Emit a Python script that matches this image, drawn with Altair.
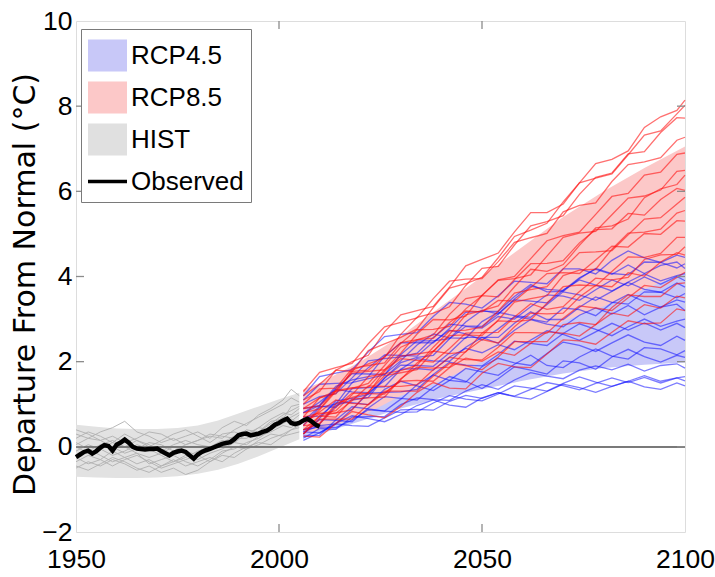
import altair as alt
import pandas as pd

# ---------------- data ----------------
obs_years = list(range(1950, 2011))
obs_vals = [-0.24, -0.18, -0.12, -0.09, -0.16, -0.10, -0.02, 0.04, 0.02, -0.09,
            0.05, 0.10, 0.17, 0.10, 0.00, -0.04, -0.05, -0.06, -0.05, -0.05,
            -0.04, -0.10, -0.15, -0.20, -0.14, -0.11, -0.09, -0.12, -0.20, -0.28,
            -0.18, -0.12, -0.08, -0.05, -0.01, 0.03, 0.07, 0.09, 0.11, 0.18,
            0.27, 0.30, 0.31, 0.27, 0.29, 0.31, 0.35, 0.38, 0.44, 0.52,
            0.56, 0.62, 0.66, 0.56, 0.53, 0.56, 0.62, 0.66, 0.60, 0.52, 0.47]

hist_band_years = [1950, 1955, 1960, 1965, 1970, 1975, 1980, 1985, 1990, 1995, 2000, 2005]
hist_band_hi = [0.52, 0.47, 0.43, 0.42, 0.42, 0.44, 0.50, 0.62, 0.78, 0.95, 1.12, 1.27]
hist_band_lo = [-0.70, -0.72, -0.73, -0.73, -0.72, -0.69, -0.63, -0.54, -0.40, -0.22, -0.02, 0.18]

proj_band_years = [2006, 2010, 2020, 2030, 2040, 2050, 2060, 2070, 2080, 2090, 2100]
rcp45_band_lo = [0.20, 0.30, 0.60, 0.90, 1.15, 1.35, 1.55, 1.72, 1.85, 1.93, 1.98]
rcp45_band_hi = [1.20, 1.40, 1.90, 2.40, 2.80, 3.10, 3.40, 3.70, 3.90, 4.10, 4.25]
rcp85_band_lo = [0.30, 0.40, 0.70, 1.20, 1.55, 2.00, 2.40, 2.95, 3.30, 3.70, 4.10]
rcp85_band_hi = [1.35, 1.50, 2.00, 2.60, 3.30, 4.00, 4.70, 5.40, 6.00, 6.55, 7.05]

hist_years = [1950, 1953, 1956, 1959, 1962, 1965, 1968, 1971, 1974, 1977,
              1980, 1983, 1986, 1989, 1992, 1995, 1998, 2001, 2003, 2005]
hist_runs = [
    [-0.35, -0.20, -0.30, -0.10, -0.25, -0.40, -0.30, -0.45, -0.35, -0.20, -0.30, -0.15, -0.05, 0.10, 0.05, 0.25, 0.35, 0.50, 0.45, 0.60],
    [0.30, 0.20, 0.35, 0.45, 0.60, 0.35, 0.25, 0.10, 0.20, 0.05, 0.15, 0.25, 0.20, 0.40, 0.55, 0.70, 0.85, 1.00, 1.15, 1.05],
    [-0.10, 0.05, -0.05, -0.20, -0.10, 0.05, -0.05, -0.20, -0.35, -0.25, -0.10, 0.00, 0.15, 0.10, 0.30, 0.45, 0.40, 0.60, 0.70, 0.80],
    [0.10, -0.05, -0.20, -0.35, -0.25, -0.15, -0.40, -0.30, -0.20, -0.35, -0.45, -0.30, -0.10, -0.05, 0.10, 0.20, 0.40, 0.55, 0.65, 0.55],
    [-0.50, -0.35, -0.45, -0.30, -0.40, -0.55, -0.45, -0.60, -0.50, -0.65, -0.55, -0.35, -0.20, -0.25, -0.05, 0.05, 0.20, 0.30, 0.40, 0.50],
    [0.40, 0.30, 0.15, 0.25, 0.10, 0.20, 0.35, 0.30, 0.15, 0.25, 0.35, 0.20, 0.45, 0.60, 0.50, 0.75, 0.90, 1.10, 1.35, 1.20],
    [0.05, 0.20, 0.15, 0.00, -0.15, -0.05, 0.10, 0.05, -0.10, 0.05, 0.15, 0.30, 0.25, 0.20, 0.40, 0.35, 0.55, 0.75, 0.85, 0.95],
    [-0.25, -0.40, -0.30, -0.45, -0.30, -0.20, -0.35, -0.50, -0.40, -0.30, -0.20, -0.35, -0.15, 0.00, -0.05, 0.15, 0.30, 0.25, 0.40, 0.45],
    [0.20, 0.35, 0.25, 0.10, 0.30, 0.15, 0.00, 0.15, 0.30, 0.40, 0.25, 0.10, 0.30, 0.35, 0.25, 0.45, 0.65, 0.80, 0.75, 0.90],
    [-0.20, -0.10, 0.05, 0.15, 0.00, -0.15, -0.25, -0.15, 0.00, -0.10, -0.20, -0.05, 0.10, 0.25, 0.35, 0.30, 0.50, 0.70, 0.60, 0.75],
    [-0.45, -0.55, -0.40, -0.25, -0.35, -0.50, -0.60, -0.45, -0.30, -0.45, -0.35, -0.25, -0.35, -0.15, 0.00, 0.10, 0.05, 0.25, 0.30, 0.35],
    [0.00, -0.15, -0.05, 0.10, 0.00, 0.15, 0.05, -0.10, 0.05, 0.15, 0.05, 0.00, 0.05, 0.20, 0.20, 0.35, 0.60, 0.65, 0.95, 1.00],
]

proj_years = [2006, 2010, 2014, 2018, 2022, 2026, 2030, 2034, 2038, 2042, 2046, 2050,
              2054, 2058, 2062, 2066, 2070, 2074, 2078, 2082, 2086, 2090, 2094, 2098, 2100]

rcp85_runs = [
    [1.10, 1.30, 1.80, 2.00, 2.15, 2.70, 3.10, 3.20, 3.30, 3.75, 4.25, 4.40, 4.55, 5.05, 5.50, 5.50, 5.70, 6.20, 6.65, 6.75, 6.95, 7.50, 7.75, 7.90, 8.14],
    [0.90, 1.15, 1.31, 1.76, 2.26, 2.42, 2.57, 2.77, 3.27, 3.73, 3.83, 3.98, 4.44, 4.94, 5.09, 5.25, 5.75, 6.20, 6.31, 6.41, 6.86, 7.32, 7.42, 7.82, 8.02],
    [0.70, 1.15, 1.25, 1.80, 1.95, 2.09, 2.64, 3.04, 3.14, 3.29, 3.79, 4.19, 4.24, 4.74, 5.19, 5.29, 5.43, 5.93, 6.33, 6.43, 6.88, 6.93, 7.38, 7.73, 7.72],
    [1.30, 1.75, 1.86, 1.96, 2.42, 2.82, 2.92, 3.03, 3.48, 3.89, 3.94, 3.95, 4.35, 4.80, 4.91, 5.01, 5.52, 5.67, 5.73, 6.23, 6.63, 6.69, 6.79, 7.20, 7.27],
    [0.50, 0.87, 1.30, 1.37, 1.49, 1.91, 2.34, 2.51, 2.63, 3.11, 3.48, 3.55, 3.92, 4.00, 4.42, 4.84, 4.96, 5.04, 5.46, 5.88, 5.95, 6.38, 6.45, 6.87, 6.90],
    [0.80, 0.89, 1.33, 1.73, 1.77, 1.81, 2.20, 2.65, 2.99, 2.98, 3.07, 3.56, 3.91, 3.95, 4.04, 4.48, 4.92, 5.02, 5.06, 5.45, 5.84, 5.89, 6.03, 6.47, 6.49],
    [0.40, 0.55, 1.01, 1.16, 1.27, 1.77, 2.13, 2.18, 2.24, 2.64, 3.10, 3.20, 3.31, 3.76, 4.17, 4.12, 4.28, 4.73, 5.14, 5.19, 5.35, 5.85, 6.06, 6.16, 6.38],
    [1.00, 1.36, 1.38, 1.84, 1.91, 1.97, 2.43, 2.75, 2.76, 2.83, 3.24, 3.55, 3.52, 3.93, 4.30, 4.31, 4.37, 4.79, 5.10, 5.12, 5.48, 5.44, 5.81, 6.07, 6.02],
    [0.60, 0.77, 0.85, 1.22, 1.65, 1.72, 1.79, 1.92, 2.34, 2.72, 2.74, 2.81, 3.19, 3.61, 3.69, 3.76, 4.18, 4.56, 4.58, 4.61, 4.98, 5.35, 5.38, 5.70, 5.86],
    [0.30, 0.72, 0.80, 0.87, 1.29, 1.67, 1.74, 1.81, 2.24, 2.61, 2.63, 2.61, 2.98, 3.40, 3.48, 3.55, 4.02, 4.15, 4.17, 4.64, 5.02, 5.04, 5.11, 5.49, 5.55],
    [1.20, 1.47, 1.80, 1.77, 1.80, 2.12, 2.45, 2.52, 2.55, 2.92, 3.19, 3.17, 3.44, 3.42, 3.74, 4.07, 4.09, 4.07, 4.39, 4.71, 4.69, 5.01, 4.99, 5.31, 5.30],
    [0.50, 0.54, 0.93, 1.26, 1.25, 1.24, 1.58, 1.97, 2.25, 2.19, 2.23, 2.67, 2.96, 2.94, 2.98, 3.37, 3.76, 3.80, 3.78, 4.12, 4.46, 4.45, 4.54, 4.92, 4.92],
    [0.90, 0.96, 1.32, 1.39, 1.40, 1.81, 2.07, 2.03, 1.99, 2.31, 2.67, 2.68, 2.69, 3.05, 3.36, 3.23, 3.29, 3.65, 3.96, 3.92, 3.98, 4.40, 4.51, 4.52, 4.70],
    [0.40, 0.72, 0.70, 1.12, 1.15, 1.17, 1.60, 1.87, 1.85, 1.87, 2.24, 2.52, 2.44, 2.82, 3.14, 3.12, 3.14, 3.52, 3.79, 3.76, 4.09, 4.01, 4.34, 4.56, 4.50],
    [0.70, 0.79, 0.79, 1.08, 1.43, 1.42, 1.42, 1.46, 1.81, 2.10, 2.05, 2.04, 2.34, 2.68, 2.68, 2.67, 3.02, 3.31, 3.26, 3.20, 3.50, 3.79, 3.74, 3.98, 4.10],
    [0.30, 0.65, 0.65, 0.65, 1.00, 1.31, 1.31, 1.31, 1.66, 1.96, 1.91, 1.81, 2.11, 2.47, 2.47, 2.47, 2.87, 2.92, 2.87, 3.27, 3.57, 3.53, 3.53, 3.83, 3.85],
    [0.60, 0.82, 1.10, 1.02, 0.99, 1.27, 1.54, 1.56, 1.54, 1.86, 2.08, 2.01, 2.23, 2.15, 2.43, 2.70, 2.67, 2.60, 2.87, 3.14, 3.07, 3.34, 3.26, 3.54, 3.50],
    [0.25, 0.23, 0.55, 0.83, 0.75, 0.68, 0.95, 1.28, 1.51, 1.38, 1.36, 1.73, 1.96, 1.88, 1.86, 2.18, 2.51, 2.49, 2.41, 2.69, 2.96, 2.89, 2.91, 3.24, 3.20],
]

rcp45_runs = [
    [1.20, 1.65, 1.73, 1.81, 2.23, 2.59, 2.64, 2.68, 3.06, 3.39, 3.35, 3.26, 3.55, 3.89, 3.86, 3.83, 4.18, 4.18, 4.06, 4.38, 4.60, 4.44, 4.33, 4.50, 4.45],
    [0.80, 0.97, 1.42, 1.57, 1.65, 2.13, 2.44, 2.45, 2.44, 2.78, 3.16, 3.18, 3.18, 3.53, 3.81, 3.64, 3.65, 3.95, 4.19, 4.07, 4.04, 4.34, 4.33, 4.20, 4.30],
    [0.50, 0.93, 1.00, 1.51, 1.60, 1.69, 2.17, 2.49, 2.49, 2.54, 2.93, 3.21, 3.12, 3.47, 3.77, 3.70, 3.67, 3.97, 4.17, 4.05, 4.27, 4.07, 4.26, 4.34, 4.19],
    [1.00, 1.18, 1.25, 1.62, 2.02, 2.07, 2.11, 2.20, 2.57, 2.88, 2.84, 2.83, 3.12, 3.45, 3.42, 3.38, 3.68, 3.92, 3.80, 3.66, 3.87, 4.06, 3.90, 4.02, 4.07],
    [0.30, 0.67, 1.08, 1.14, 1.23, 1.61, 1.98, 2.10, 2.15, 2.54, 2.83, 2.79, 3.06, 3.00, 3.29, 3.57, 3.54, 3.44, 3.69, 3.92, 3.78, 3.99, 3.82, 4.00, 3.90],
    [0.90, 0.97, 1.37, 1.72, 1.71, 1.70, 2.02, 2.39, 2.65, 2.56, 2.55, 2.94, 3.16, 3.08, 3.04, 3.34, 3.64, 3.57, 3.44, 3.65, 3.86, 3.70, 3.63, 3.85, 3.75],
    [0.40, 0.54, 0.97, 1.10, 1.16, 1.62, 1.92, 1.91, 1.89, 2.21, 2.57, 2.57, 2.57, 2.90, 3.17, 2.99, 2.99, 3.28, 3.52, 3.39, 3.35, 3.64, 3.63, 3.50, 3.60],
    [1.10, 1.47, 1.49, 1.50, 1.86, 2.16, 2.15, 2.13, 2.46, 2.74, 2.65, 2.51, 2.77, 3.06, 3.00, 2.93, 3.26, 3.22, 3.08, 3.38, 3.58, 3.41, 3.28, 3.45, 3.40],
    [0.60, 0.95, 0.93, 1.37, 1.39, 1.41, 1.82, 2.07, 2.02, 2.01, 2.34, 2.57, 2.43, 2.74, 2.99, 2.88, 2.82, 3.09, 3.26, 3.12, 3.32, 3.10, 3.28, 3.35, 3.20],
    [0.35, 0.50, 0.54, 0.88, 1.26, 1.28, 1.29, 1.35, 1.70, 1.99, 1.92, 1.90, 2.17, 2.48, 2.43, 2.38, 2.66, 2.89, 2.76, 2.61, 2.82, 3.00, 2.83, 2.95, 3.00],
    [0.80, 1.05, 1.35, 1.29, 1.27, 1.55, 1.82, 1.84, 1.80, 2.11, 2.31, 2.21, 2.40, 2.28, 2.51, 2.73, 2.64, 2.50, 2.70, 2.90, 2.74, 2.91, 2.74, 2.90, 2.80],
    [0.25, 0.27, 0.63, 0.94, 0.89, 0.84, 1.12, 1.46, 1.69, 1.56, 1.52, 1.88, 2.08, 1.97, 1.91, 2.19, 2.46, 2.38, 2.24, 2.44, 2.63, 2.46, 2.38, 2.60, 2.50],
    [0.70, 0.72, 1.03, 1.04, 0.99, 1.35, 1.54, 1.43, 1.32, 1.56, 1.84, 1.76, 1.68, 1.94, 2.15, 1.91, 1.86, 2.11, 2.30, 2.13, 2.06, 2.33, 2.30, 2.16, 2.26],
    [0.30, 0.64, 0.62, 0.59, 0.91, 1.18, 1.14, 1.10, 1.40, 1.65, 1.54, 1.37, 1.60, 1.88, 1.80, 1.71, 2.02, 1.97, 1.82, 2.11, 2.29, 2.12, 1.99, 2.15, 2.10],
    [0.20, 0.43, 0.41, 0.70, 0.71, 0.71, 0.99, 1.15, 1.11, 1.09, 1.31, 1.46, 1.35, 1.57, 1.74, 1.66, 1.60, 1.80, 1.90, 1.81, 1.94, 1.78, 1.91, 1.95, 1.85],
    [0.40, 0.47, 0.45, 0.63, 0.87, 0.84, 0.81, 0.82, 1.03, 1.20, 1.12, 1.08, 1.24, 1.43, 1.38, 1.31, 1.49, 1.64, 1.52, 1.42, 1.54, 1.67, 1.54, 1.62, 1.65],
    [0.15, 0.33, 0.54, 0.50, 0.48, 0.68, 0.87, 0.88, 0.86, 1.07, 1.21, 1.14, 1.27, 1.19, 1.35, 1.51, 1.44, 1.34, 1.49, 1.62, 1.51, 1.63, 1.50, 1.62, 1.55],
    [0.35, 0.33, 0.55, 0.73, 0.66, 0.59, 0.76, 0.97, 1.10, 0.98, 0.93, 1.15, 1.27, 1.18, 1.12, 1.30, 1.47, 1.39, 1.28, 1.42, 1.54, 1.41, 1.35, 1.50, 1.43],
]

legend_names = ["RCP4.5", "RCP8.5", "HIST", "Observed"]
legend_colors = ["#c8c8f8", "#fcc8c8", "#e0e0e0", "#000000"]

x_tick_values = [1950, 2000, 2050, 2100]
y_tick_values = [-2, 0, 2, 4, 6, 8, 10]
inner_x_ticks = [2000, 2050]
inner_y_ticks = [0, 2, 4, 6, 8]

# ---------------- tables ----------------
def runs_frame(years, runs):
    rows = []
    for i, run in enumerate(runs):
        for yr, v in zip(years, run):
            rows.append({"year": yr, "value": v, "run": i})
    return pd.DataFrame(rows)

obs_df = pd.DataFrame({"year": obs_years, "value": obs_vals})
hist_band_df = pd.DataFrame({"year": hist_band_years, "lo": hist_band_lo, "hi": hist_band_hi})
rcp45_band_df = pd.DataFrame({"year": proj_band_years, "lo": rcp45_band_lo, "hi": rcp45_band_hi})
rcp85_band_df = pd.DataFrame({"year": proj_band_years, "lo": rcp85_band_lo, "hi": rcp85_band_hi})
hist_df = runs_frame(hist_years, hist_runs)
rcp45_df = runs_frame(proj_years, rcp45_runs)
rcp85_df = runs_frame(proj_years, rcp85_runs)
legend_df = pd.DataFrame({"series": legend_names})
xtick_df = pd.DataFrame({"year": inner_x_ticks})
ytick_df = pd.DataFrame({"value": inner_y_ticks})

W, H = 609, 511
FONT = "Liberation Sans"

x_scale = alt.Scale(domain=[1950, 2100], nice=False, zero=False)
y_scale = alt.Scale(domain=[-2, 10], nice=False, zero=False)

x_enc = alt.X("year:Q", scale=x_scale,
              axis=alt.Axis(values=x_tick_values, format="d", title=None,
                            labelFontSize=26.5, labelFont=FONT, labelPadding=14,
                            labelFlush=False, labelOverlap=False, ticks=False,
                            domain=False, grid=False, labelColor="#000"))


def band(df, color):
    return alt.Chart(df).mark_area(color=color, opacity=1, interpolate="linear").encode(
        x=x_enc,
        y=alt.Y("lo:Q", scale=y_scale),
        y2="hi:Q",
    )


def runs(df, color, opacity, width):
    return alt.Chart(df).mark_line(color=color, opacity=opacity, strokeWidth=width).encode(
        x=x_enc,
        y=alt.Y("value:Q", scale=y_scale),
        detail="run:N",
    )


observed_line = alt.Chart(obs_df).mark_line(color="black", strokeWidth=4.5).encode(
    x=x_enc,
    y=alt.Y("value:Q", scale=y_scale,
            axis=alt.Axis(values=y_tick_values, title="Departure From Normal (°C)",
                          labelFontSize=26.5, labelFont=FONT, labelPadding=4,
                          ticks=False, domain=False, grid=False, labelColor="#000",
                          labelFlush=False, labelOverlap=False,
                          titleFont="DejaVu Sans", titleFontSize=30,
                          titleFontWeight="normal", titleColor="#000",
                          titleX=-51, titleY=263, titleAngle=270,
                          titleAlign="center", titleBaseline="middle")),
)

zero_line = alt.Chart(obs_df).mark_rule(color="#7a7a7a", strokeWidth=1.3).encode(
    y=alt.datum(0, scale=y_scale)
)

tick_style = dict(color="#8c8c8c", strokeWidth=1.3)
ticks_bottom = alt.Chart(xtick_df).mark_rule(**tick_style).encode(
    x=x_enc, y=alt.value(H), y2=alt.value(H - 8))
ticks_top = alt.Chart(xtick_df).mark_rule(**tick_style).encode(
    x=x_enc, y=alt.value(0), y2=alt.value(8))
ticks_left = alt.Chart(ytick_df).mark_rule(**tick_style).encode(
    y=alt.Y("value:Q", scale=y_scale), x=alt.value(0), x2=alt.value(8))
ticks_right = alt.Chart(ytick_df).mark_rule(**tick_style).encode(
    y=alt.Y("value:Q", scale=y_scale), x=alt.value(W), x2=alt.value(W - 8))

rect_path = "M-1,-0.82H1V0.82H-1Z"
line_path = "M-1,-0.09H1V0.09H-1Z"
legend_cfg = alt.Legend(
    title=None, orient="none", legendX=5, legendY=8, padding=7,
    fillColor="white", strokeColor="#7a7a7a", symbolSize=1521,
    symbolStrokeWidth=0, symbolOpacity=1, labelFont=FONT, labelFontSize=26,
    labelOffset=4, rowPadding=6, labelColor="#000", labelLimit=300,
)
legend_layer = alt.Chart(legend_df).mark_point(filled=True, size=0, opacity=1).encode(
    color=alt.Color("series:N", scale=alt.Scale(domain=legend_names, range=legend_colors),
                    legend=legend_cfg),
    shape=alt.Shape("series:N",
                    scale=alt.Scale(domain=legend_names,
                                    range=[rect_path, rect_path, rect_path, line_path]),
                    legend=legend_cfg),
)

chart = alt.layer(
    band(hist_band_df, "#e2e2e2"),
    band(rcp45_band_df, "#c8c8f8"),
    band(rcp85_band_df, "#fcc8c8"),
    runs(hist_df, "#b0b0b0", 0.9, 1),
    zero_line,
    runs(rcp45_df, "#1010ff", 0.55, 1.3),
    runs(rcp85_df, "#ff1010", 0.6, 1.3),
    observed_line,
    ticks_bottom, ticks_top, ticks_left, ticks_right,
    legend_layer,
).properties(
    width=W, height=H,
    autosize=alt.AutoSizeParams(type="none"),
    padding={"left": 76, "top": 21, "right": 30, "bottom": 45},
).configure_view(
    stroke="#9a9a9a", strokeWidth=1.5
).configure(background="white")

chart.save("out.html", embed_options={"renderer": "svg", "actions": False})
